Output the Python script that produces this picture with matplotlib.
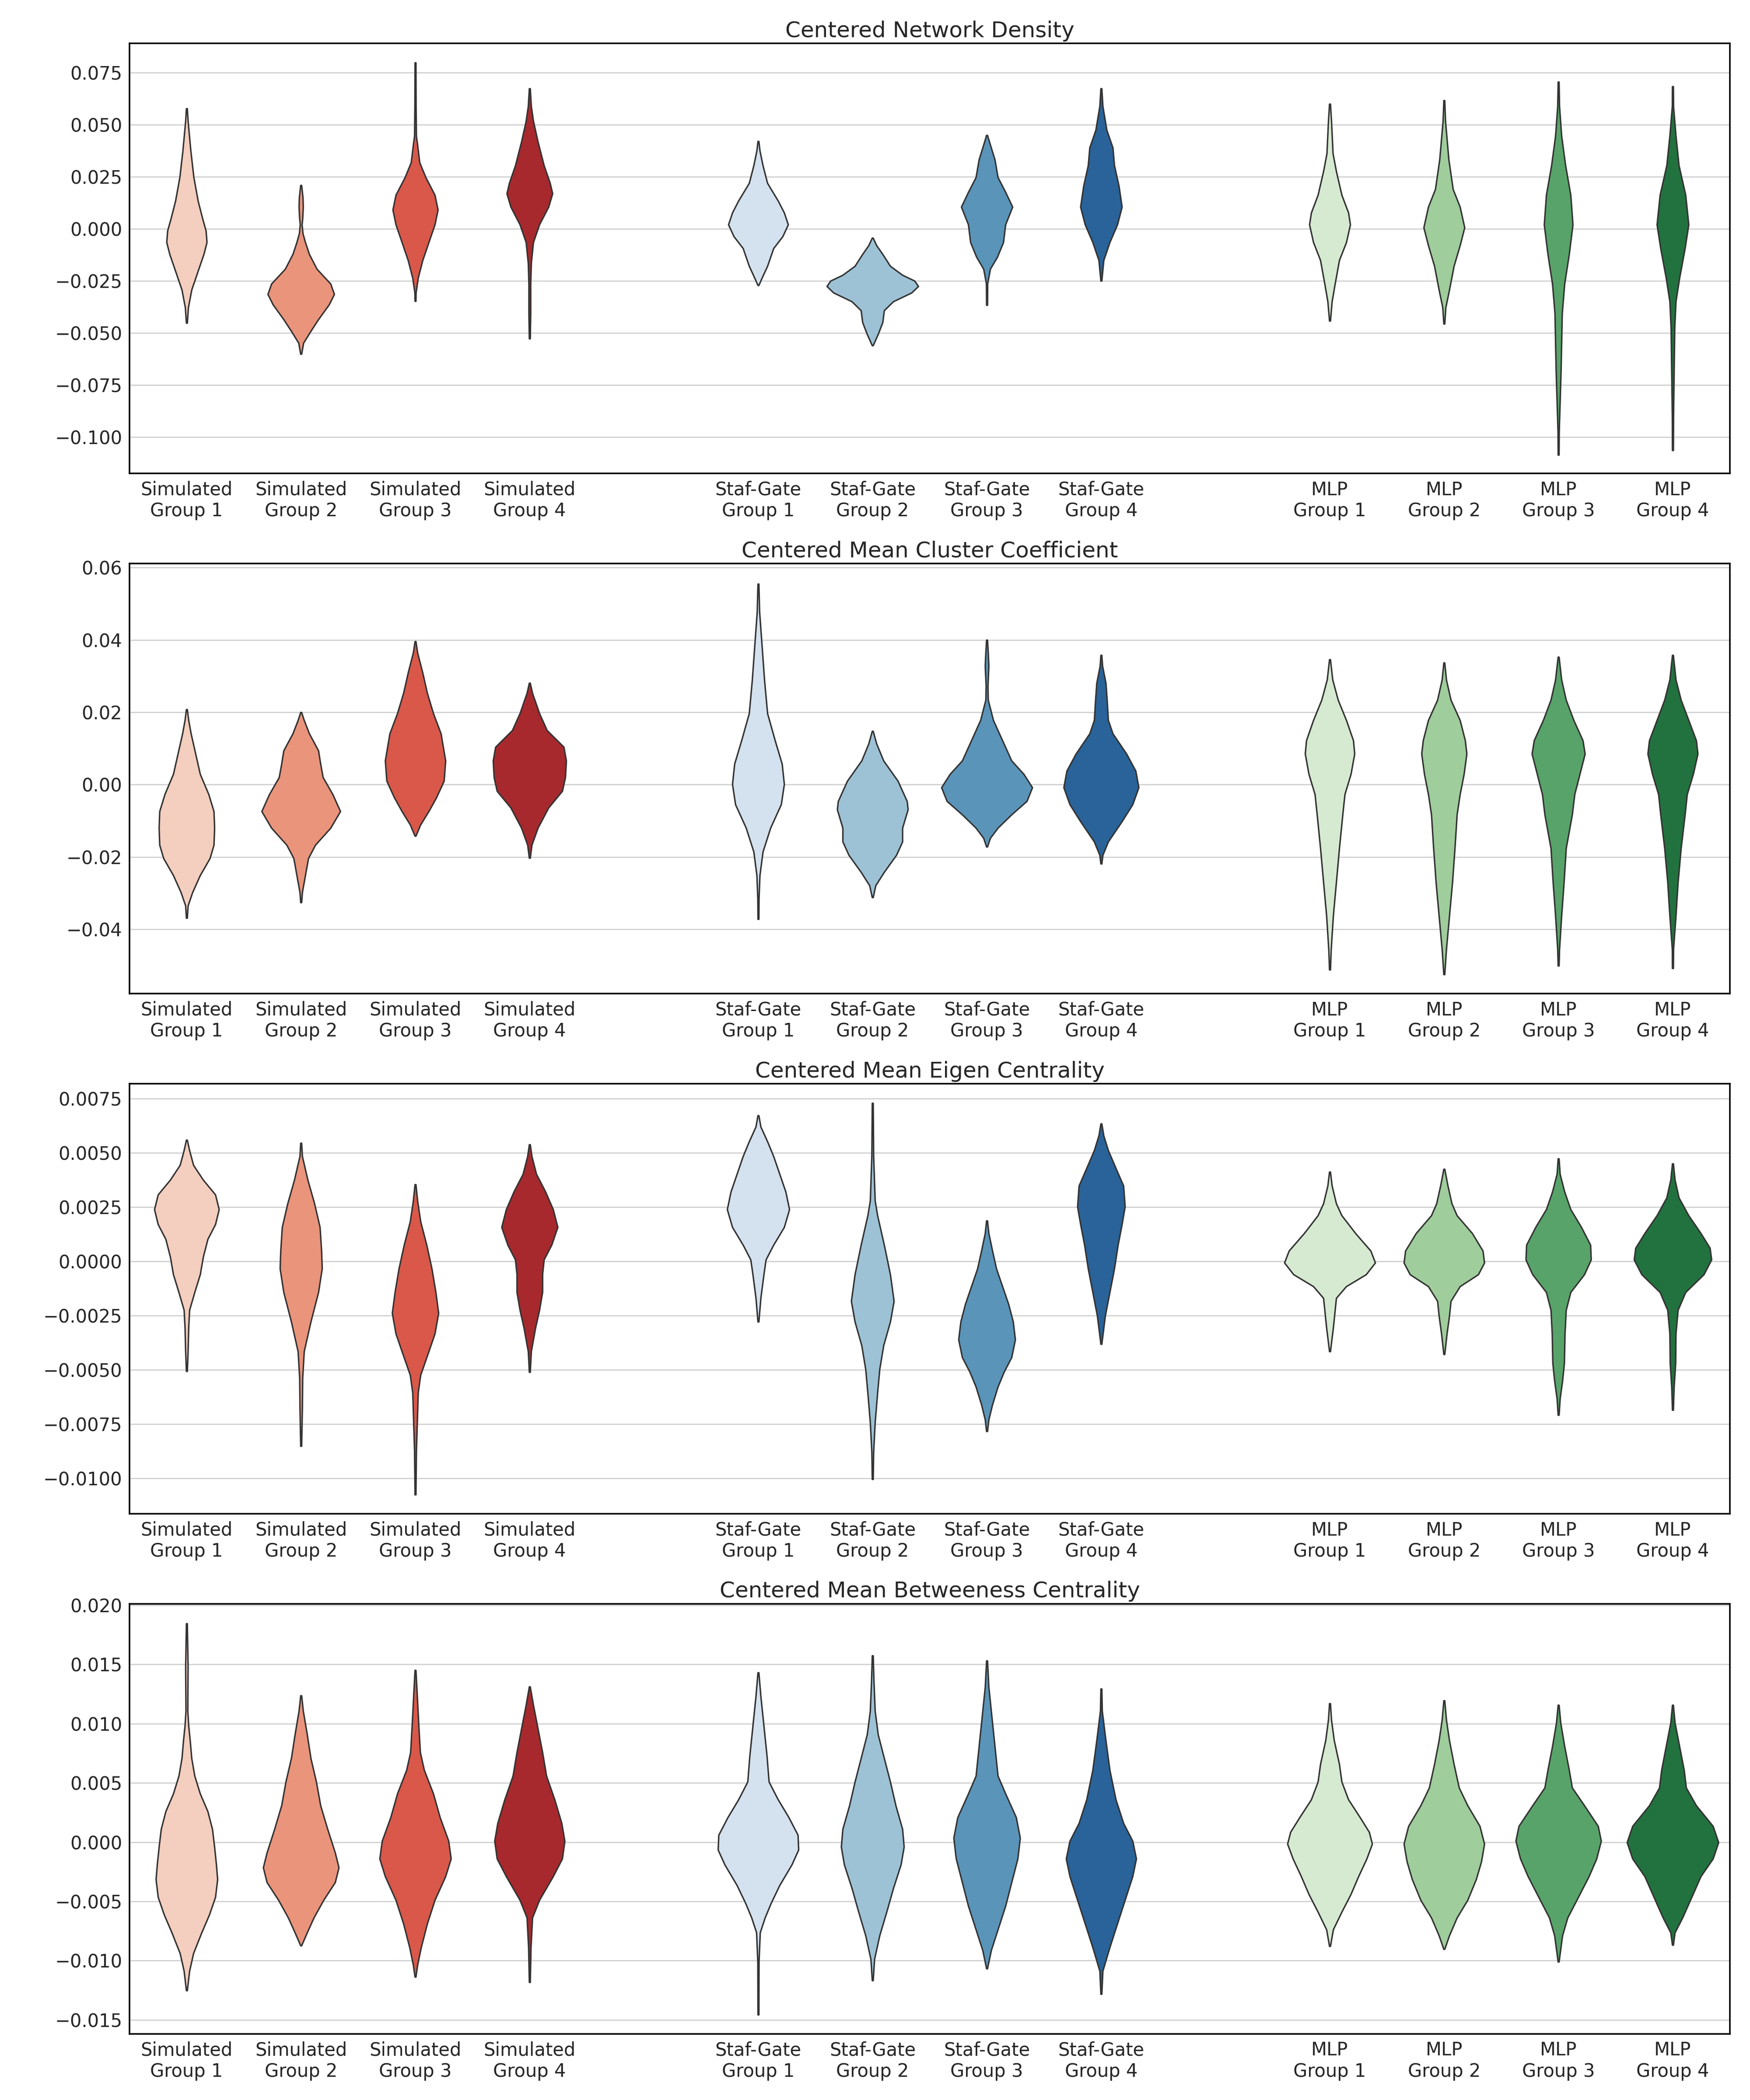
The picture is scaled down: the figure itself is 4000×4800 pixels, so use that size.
import numpy as np
import matplotlib
matplotlib.use("Agg")
import matplotlib.pyplot as plt
import seaborn as sns

# ---------------- data ----------------
TITLES = ["Centered Network Density", "Centered Mean Cluster Coefficient",
          "Centered Mean Eigen Centrality", "Centered Mean Betweeness Centrality"]
GROUPS = ["Simulated", "Staf-Gate", "MLP"]
SUBGROUPS = ["Group 1", "Group 2", "Group 3", "Group 4"]
PALETTES = ["Reds", "Blues", "Greens"]

YTICKS = [
    [-0.100, -0.075, -0.050, -0.025, 0.000, 0.025, 0.050, 0.075],
    [-0.04, -0.02, 0.00, 0.02, 0.04, 0.06],
    [-0.0100, -0.0075, -0.0050, -0.0025, 0.0000, 0.0025, 0.0050, 0.0075],
    [-0.015, -0.010, -0.005, 0.000, 0.005, 0.010, 0.015, 0.020],
]
YLIMS = [(-0.1174, 0.0889), (-0.0578, 0.0611), (-0.01164, 0.00818), (-0.01618, 0.0201)]

# violin profiles: y values and relative density (half-width) at each y
ND_Y = [
    [0.0577, 0.0517, 0.0375, 0.0247, 0.0134, 0.0048, -0.0009, -0.0065, -0.0122, -0.0207, -0.0293, -0.0378, -0.0452],
    [0.0209, 0.0150, 0.0105, 0.0048, 0.0020, -0.0023, -0.0065, -0.0122, -0.0193, -0.0264, -0.0314, -0.0364, -0.0435, -0.0491, -0.0548, -0.0601],
    [0.0797, 0.0588, 0.0446, 0.0403, 0.0318, 0.0247, 0.0162, 0.0091, 0.0020, -0.0065, -0.0151, -0.0236, -0.0307, -0.0347],
    [0.0673, 0.0588, 0.0517, 0.0418, 0.0304, 0.0219, 0.0169, 0.0105, 0.0020, -0.0065, -0.0165, -0.0264, -0.0406, -0.0527],
    [0.0420, 0.0375, 0.0304, 0.0219, 0.0134, 0.0077, 0.0020, -0.0037, -0.0094, -0.0179, -0.0236, -0.0271],
    [-0.0044, -0.0080, -0.0122, -0.0179, -0.0222, -0.0250, -0.0276, -0.0307, -0.0349, -0.0392, -0.0449, -0.0506, -0.0560],
    [0.0449, 0.0403, 0.0332, 0.0247, 0.0176, 0.0105, 0.0020, -0.0065, -0.0136, -0.0193, -0.0264, -0.0366],
    [0.0673, 0.0588, 0.0474, 0.0389, 0.0304, 0.0205, 0.0105, 0.0020, -0.0065, -0.0151, -0.0250],
    [0.0599, 0.0517, 0.0361, 0.0276, 0.0162, 0.0077, 0.0020, -0.0065, -0.0151, -0.0264, -0.0349, -0.0442],
    [0.0616, 0.0517, 0.0332, 0.0190, 0.0105, 0.0006, -0.0080, -0.0179, -0.0293, -0.0378, -0.0456],
    [0.0705, 0.0588, 0.0446, 0.0304, 0.0162, 0.0020, -0.0122, -0.0264, -0.0406, -0.0548, -0.0690, -0.0832, -0.0974, -0.1085],
    [0.0683, 0.0588, 0.0446, 0.0304, 0.0162, 0.0020, -0.0094, -0.0236, -0.0349, -0.0477, -0.0690, -0.0903, -0.1063],
]
ND_W = [
    [1.5, 4, 13, 23, 37, 52, 63, 66, 56, 36, 16, 5, 1.5],
    [1.5, 6, 7, 5, 3, 6, 14, 27, 52, 97, 109, 92, 57, 32, 8, 1.5],
    [1.5, 2, 3, 7, 14, 34, 64, 74, 64, 44, 24, 9, 2, 1.5],
    [1.5, 5, 12, 27, 47, 67, 75, 62, 32, 12, 5, 3, 3, 1.5],
    [1.5, 5, 15, 30, 65, 85, 98, 80, 50, 30, 12, 1.5],
    [1.5, 13, 33, 58, 98, 138, 150, 128, 68, 38, 33, 18, 1.5],
    [1.5, 11, 26, 36, 61, 84, 61, 54, 34, 11, 2, 1.5],
    [1.5, 5, 18, 38, 43, 58, 68, 53, 28, 8, 1.5],
    [1.5, 5, 10, 21, 39, 61, 67, 54, 31, 17, 7, 1.5],
    [1.5, 4, 15, 29, 52, 67, 52, 32, 17, 5, 1.5],
    [1.5, 3, 10, 23, 40, 47, 35, 20, 12, 10, 8, 5, 2, 1.5],
    [1.5, 2, 10, 20, 42, 52, 40, 22, 10, 6, 4, 2, 1.5],
]

CC_Y = [
    [0.0208, 0.0178, 0.0141, 0.0085, 0.0029, -0.0027, -0.0074, -0.0120, -0.0167, -0.0204, -0.0251, -0.0298, -0.0335, -0.0369],
    [0.0200, 0.0178, 0.0141, 0.0094, 0.0057, 0.0020, -0.0027, -0.0074, -0.0120, -0.0167, -0.0204, -0.0251, -0.0298, -0.0326],
    [0.0396, 0.0365, 0.0309, 0.0253, 0.0197, 0.0141, 0.0066, 0.0010, -0.0036, -0.0074, -0.0111, -0.0142],
    [0.0281, 0.0253, 0.0197, 0.0150, 0.0104, 0.0066, 0.0020, -0.0018, -0.0064, -0.0120, -0.0167, -0.0203],
    [0.0555, 0.0477, 0.0384, 0.0290, 0.0197, 0.0122, 0.0057, 0.0001, -0.0055, -0.0120, -0.0186, -0.0251, -0.0316, -0.0372],
    [0.0148, 0.0113, 0.0066, 0.0010, -0.0046, -0.0069, -0.0120, -0.0158, -0.0195, -0.0242, -0.0279, -0.0312],
    [0.0400, 0.0365, 0.0328, 0.0272, 0.0234, 0.0178, 0.0122, 0.0066, 0.0029, -0.0008, -0.0046, -0.0083, -0.0120, -0.0148, -0.0172],
    [0.0358, 0.0328, 0.0281, 0.0234, 0.0178, 0.0141, 0.0085, 0.0038, -0.0008, -0.0055, -0.0102, -0.0158, -0.0195, -0.0219],
    [0.0346, 0.0290, 0.0234, 0.0178, 0.0122, 0.0085, 0.0029, -0.0027, -0.0083, -0.0176, -0.0270, -0.0363, -0.0456, -0.0512],
    [0.0337, 0.0290, 0.0234, 0.0178, 0.0122, 0.0085, 0.0029, -0.0027, -0.0083, -0.0176, -0.0270, -0.0363, -0.0456, -0.0525],
    [0.0353, 0.0290, 0.0234, 0.0178, 0.0122, 0.0085, 0.0029, -0.0027, -0.0083, -0.0176, -0.0270, -0.0363, -0.0456, -0.0501],
    [0.0358, 0.0290, 0.0234, 0.0178, 0.0122, 0.0085, 0.0029, -0.0027, -0.0083, -0.0176, -0.0270, -0.0363, -0.0456, -0.0508],
]
CC_W = [
    [1.5, 6, 14, 29, 44, 72, 89, 91, 89, 76, 44, 19, 4, 1.5],
    [1.5, 10, 27, 57, 64, 72, 104, 129, 97, 47, 24, 14, 4, 1.5],
    [1.5, 7, 24, 39, 59, 84, 99, 94, 69, 44, 17, 1.5],
    [1.5, 9, 32, 57, 112, 120, 117, 107, 62, 27, 7, 1.5],
    [1.5, 4, 12, 20, 30, 55, 78, 85, 75, 40, 15, 5, 2, 1.5],
    [1.5, 13, 36, 83, 113, 116, 98, 98, 78, 38, 10, 1.5],
    [1.5, 4, 6, 3, 4, 21, 51, 81, 121, 149, 131, 81, 36, 11, 1.5],
    [1.5, 4, 15, 19, 23, 38, 83, 113, 123, 103, 68, 23, 5, 1.5],
    [1.5, 9, 27, 54, 77, 81, 69, 49, 42, 31, 21, 11, 4, 1.5],
    [1.5, 7, 22, 52, 69, 74, 65, 52, 42, 35, 27, 17, 7, 1.5],
    [1.5, 10, 25, 50, 80, 87, 70, 53, 45, 25, 18, 10, 3, 1.5],
    [1.5, 10, 27, 52, 77, 82, 67, 47, 40, 27, 17, 10, 2, 1.5],
]

EC_Y = [
    [0.00559, 0.00511, 0.00443, 0.00375, 0.00307, 0.00239, 0.00170, 0.00102, 0.00020, -0.00061, -0.00143, -0.00225, -0.00307, -0.00416, -0.00507],
    [0.00545, 0.00484, 0.00375, 0.00266, 0.00157, 0.00048, -0.00034, -0.00143, -0.00279, -0.00416, -0.00538, -0.00675, -0.00852],
    [0.00354, 0.00279, 0.00184, 0.00075, -0.00034, -0.00143, -0.00239, -0.00334, -0.00416, -0.00525, -0.00607, -0.00743, -0.00879, -0.01076],
    [0.00538, 0.00484, 0.00402, 0.00320, 0.00239, 0.00157, 0.00075, 0.00007, -0.00061, -0.00143, -0.00225, -0.00307, -0.00416, -0.00511],
    [0.00672, 0.00620, 0.00552, 0.00484, 0.00402, 0.00320, 0.00239, 0.00157, 0.00075, 0.00007, -0.00061, -0.00170, -0.00279],
    [0.00729, 0.00484, 0.00279, 0.00211, 0.00075, -0.00061, -0.00184, -0.00279, -0.00388, -0.00498, -0.00607, -0.00743, -0.00879, -0.01005],
    [0.00187, 0.00129, 0.00048, -0.00034, -0.00116, -0.00198, -0.00279, -0.00361, -0.00443, -0.00511, -0.00579, -0.00661, -0.00730, -0.00784],
    [0.00634, 0.00579, 0.00511, 0.00429, 0.00348, 0.00252, 0.00170, 0.00075, -0.00034, -0.00143, -0.00252, -0.00382],
    [0.00412, 0.00348, 0.00266, 0.00211, 0.00129, 0.00048, -0.00007, -0.00061, -0.00116, -0.00170, -0.00225, -0.00307, -0.00416],
    [0.00425, 0.00348, 0.00266, 0.00211, 0.00129, 0.00048, -0.00007, -0.00061, -0.00116, -0.00184, -0.00252, -0.00334, -0.00429],
    [0.00473, 0.00402, 0.00320, 0.00239, 0.00157, 0.00075, 0.00007, -0.00061, -0.00143, -0.00225, -0.00334, -0.00470, -0.00552, -0.00634, -0.00709],
    [0.00450, 0.00375, 0.00293, 0.00211, 0.00129, 0.00061, 0.00007, -0.00061, -0.00143, -0.00225, -0.00334, -0.00470, -0.00579, -0.00686],
]
EC_W = [
    [1.5, 9, 22, 54, 94, 106, 94, 69, 54, 44, 26, 9, 6, 4, 1.5],
    [1.5, 4, 22, 44, 62, 67, 69, 57, 32, 10, 5, 4, 1.5],
    [1.5, 7, 17, 37, 54, 67, 76, 64, 44, 17, 9, 6, 3, 1.5],
    [1.5, 7, 22, 52, 77, 92, 72, 47, 42, 42, 32, 19, 5, 1.5],
    [1.5, 8, 30, 50, 70, 90, 102, 85, 50, 25, 18, 8, 1.5],
    [1.5, 3, 8, 16, 38, 58, 70, 58, 36, 23, 16, 8, 3, 1.5],
    [1.5, 6, 18, 31, 51, 71, 86, 93, 81, 56, 36, 18, 6, 1.5],
    [1.5, 8, 23, 48, 73, 78, 68, 55, 43, 28, 13, 1.5],
    [1.5, 7, 21, 39, 84, 134, 149, 119, 54, 21, 17, 11, 1.5],
    [1.5, 12, 25, 42, 92, 127, 132, 112, 52, 22, 17, 9, 1.5],
    [1.5, 5, 20, 40, 75, 105, 107, 85, 40, 25, 21, 19, 13, 5, 1.5],
    [1.5, 7, 20, 52, 92, 122, 127, 102, 42, 17, 10, 9, 4, 1.5],
]

BC_Y = [
    [0.01845, 0.01481, 0.01107, 0.00983, 0.00858, 0.00708, 0.00559, 0.00409, 0.00259, 0.00110, -0.00040, -0.00190, -0.00314, -0.00464, -0.00613, -0.00763, -0.00938, -0.01087, -0.01252],
    [0.01237, 0.01107, 0.00908, 0.00708, 0.00509, 0.00309, 0.00110, -0.00090, -0.00214, -0.00339, -0.00489, -0.00638, -0.00763, -0.00873],
    [0.01451, 0.01232, 0.00983, 0.00758, 0.00608, 0.00409, 0.00209, 0.00010, -0.00140, -0.00289, -0.00489, -0.00688, -0.00888, -0.01037, -0.01137],
    [0.01312, 0.01157, 0.00958, 0.00758, 0.00559, 0.00359, 0.00160, 0.00010, -0.00140, -0.00289, -0.00489, -0.00638, -0.00888, -0.01182],
    [0.01431, 0.01232, 0.00983, 0.00733, 0.00509, 0.00359, 0.00209, 0.00060, -0.00065, -0.00190, -0.00364, -0.00514, -0.00638, -0.00763, -0.01012, -0.01456],
    [0.01574, 0.01357, 0.01107, 0.00908, 0.00708, 0.00509, 0.00309, 0.00110, -0.00040, -0.00190, -0.00389, -0.00589, -0.00788, -0.00988, -0.01167],
    [0.01531, 0.01307, 0.01057, 0.00808, 0.00559, 0.00409, 0.00209, 0.00035, -0.00140, -0.00339, -0.00539, -0.00738, -0.00913, -0.01067],
    [0.01294, 0.01107, 0.00858, 0.00608, 0.00359, 0.00160, 0.00010, -0.00140, -0.00289, -0.00489, -0.00688, -0.00888, -0.01087, -0.01282],
    [0.01170, 0.01032, 0.00858, 0.00658, 0.00509, 0.00359, 0.00209, 0.00085, -0.00015, -0.00140, -0.00289, -0.00439, -0.00589, -0.00738, -0.00878],
    [0.01195, 0.01032, 0.00858, 0.00658, 0.00459, 0.00309, 0.00135, -0.00015, -0.00165, -0.00314, -0.00489, -0.00638, -0.00788, -0.00903],
    [0.01157, 0.01007, 0.00808, 0.00608, 0.00459, 0.00309, 0.00135, 0.00010, -0.00140, -0.00289, -0.00464, -0.00638, -0.00788, -0.01010],
    [0.01157, 0.01007, 0.00808, 0.00608, 0.00459, 0.00309, 0.00135, -0.00002, -0.00140, -0.00289, -0.00464, -0.00638, -0.00763, -0.00868],
]
BC_W = [
    [1.5, 4, 3, 6, 11, 16, 26, 44, 69, 84, 91, 97, 101, 94, 74, 49, 22, 9, 1.5],
    [1.5, 7, 20, 32, 50, 64, 87, 112, 124, 112, 74, 42, 20, 1.5],
    [1.5, 6, 11, 16, 29, 59, 81, 109, 117, 99, 64, 39, 19, 7, 1.5],
    [1.5, 12, 27, 42, 55, 82, 105, 115, 107, 77, 32, 9, 4, 1.5],
    [1.5, 8, 18, 28, 35, 65, 100, 130, 132, 110, 70, 42, 22, 6, 2, 1.5],
    [1.5, 4, 8, 18, 38, 58, 76, 98, 103, 93, 68, 46, 23, 6, 1.5],
    [1.5, 6, 16, 26, 36, 61, 96, 109, 101, 81, 61, 36, 14, 1.5],
    [1.5, 3, 15, 28, 48, 73, 103, 115, 103, 78, 53, 28, 5, 1.5],
    [1.5, 5, 14, 31, 39, 61, 99, 129, 139, 121, 94, 69, 39, 11, 1.5],
    [1.5, 7, 17, 32, 49, 77, 117, 132, 122, 105, 77, 42, 17, 1.5],
    [1.5, 7, 20, 35, 45, 85, 130, 140, 125, 100, 65, 30, 13, 1.5],
    [1.5, 7, 22, 37, 44, 77, 132, 150, 132, 92, 62, 32, 7, 1.5],
]

PANEL_Y = [ND_Y, CC_Y, EC_Y, BC_Y]
PANEL_W = [ND_W, CC_W, EC_W, BC_W]

# density unit -> half-width in category units (widest violin = 0.8)
WIDTH_SCALE = 0.4 / 150.0

# ---------------- plot ----------------
TEXT = "#262626"
EDGE = "#333333"

fig, axes = plt.subplots(4, 1, figsize=(4000 / 300, 4800 / 300), dpi=300)
fig.subplots_adjust(left=0.074, right=0.9885, top=0.9793, bottom=0.0315, hspace=0.2098)

positions = [g * 5 + i for g in range(len(GROUPS)) for i in range(len(SUBGROUPS))]
labels = [f"{g}\n{s}" for g in GROUPS for s in SUBGROUPS]
colors = []
for pal in PALETTES:
    colors += list(sns.color_palette(pal, len(SUBGROUPS), desat=0.75))

for ax, title, ys, ws, ticks, ylim in zip(axes, TITLES, PANEL_Y, PANEL_W, YTICKS, YLIMS):
    vpstats, widths = [], []
    for y, w in zip(ys, ws):
        y = np.asarray(y, float)
        w = np.asarray(w, float)
        k = int(np.argmax(w))
        vpstats.append(dict(coords=y, vals=w, mean=y[k], median=y[k], min=y.min(), max=y.max()))
        widths.append(2 * w.max() * WIDTH_SCALE)
    parts = ax.violin(vpstats, positions=positions, widths=widths,
                      showmeans=False, showextrema=False, showmedians=False)
    for body, c in zip(parts["bodies"], colors):
        body.set_facecolor(c)
        body.set_edgecolor(EDGE)
        body.set_linewidth(0.8)
        body.set_alpha(1)
        body.set_zorder(2)

    ax.set_xlim(-0.5, 13.5)
    ax.set_ylim(*ylim)
    ax.set_yticks(ticks)
    ax.set_xticks(positions)
    ax.set_xticklabels(labels)
    ax.tick_params(axis="both", length=0, pad=4, labelsize=10, labelcolor=TEXT)
    ax.set_axisbelow(True)
    ax.yaxis.grid(True, color="#cccccc", linewidth=0.6)
    ax.xaxis.grid(False)
    for sp in ax.spines.values():
        sp.set_color("black")
        sp.set_linewidth(0.85)
    ax.set_title(title, fontsize=12, color=TEXT, pad=3.5)

fig.savefig("out.png", dpi=300, facecolor="white")
